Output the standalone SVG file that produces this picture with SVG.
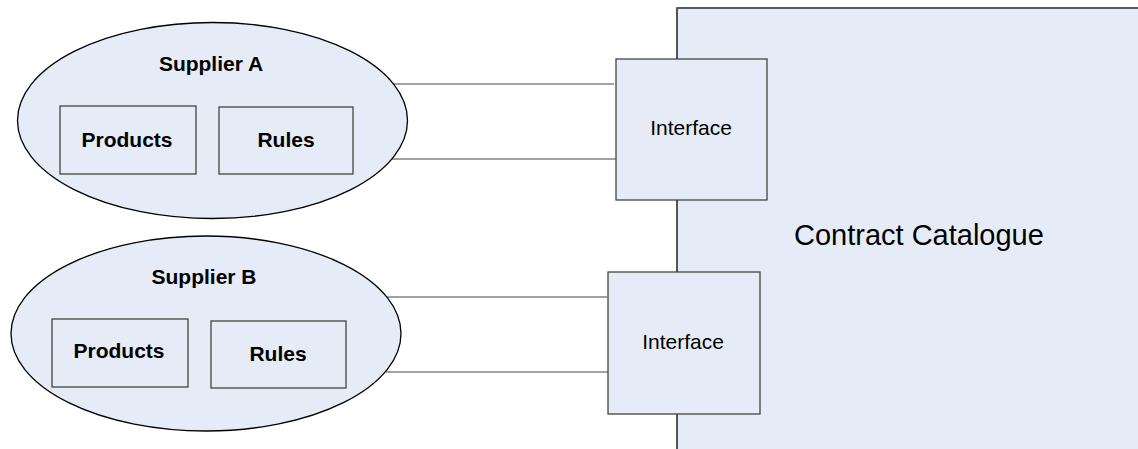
<svg xmlns="http://www.w3.org/2000/svg" width="1138" height="449" viewBox="0 0 1138 449">
<style>
.fill{fill:#e6ecf7}
.ell{fill:#e6ecf7;stroke:#000;stroke-width:1.3}
.box{fill:#e6ecf7;stroke:#444;stroke-width:1.3}
.conn{stroke:#444;stroke-width:1.2;fill:none}
.b{font-family:"Liberation Sans",Arial,sans-serif;font-weight:bold;font-size:21px;fill:#000;text-anchor:middle}
.r{font-family:"Liberation Sans",Arial,sans-serif;font-size:21px;fill:#000;text-anchor:middle}
</style>
<rect width="1138" height="449" fill="#fff"/>
<g id="catalogue">
<rect x="677" y="8" width="470" height="450" class="fill"/>
<path d="M677 458 V8 H1140" fill="none" stroke="#000" stroke-width="1.3"/>
<path d="M677 8 H1140" fill="none" stroke="#666" stroke-width="1.3"/>
<text x="794" y="245" font-family="Liberation Sans,Arial,sans-serif" font-size="29" fill="#000">Contract Catalogue</text>
</g>
<g id="connectors">
<line x1="393" y1="84" x2="614" y2="84" class="conn"/>
<line x1="392" y1="159" x2="618" y2="159" class="conn"/>
<line x1="387" y1="297" x2="607" y2="297" class="conn"/>
<line x1="386" y1="372" x2="611" y2="372" class="conn"/>
</g>
<g id="supplierA">
<ellipse cx="212.5" cy="120.5" rx="195" ry="98" class="ell"/>
<text x="211" y="71" class="b">Supplier A</text>
</g>
<g id="productsA">
<rect x="60" y="106" width="136" height="68" class="box"/>
<text x="127" y="147" class="b">Products</text>
</g>
<g id="rulesA">
<rect x="219" y="107" width="134" height="67" class="box"/>
<text x="286" y="147" class="b">Rules</text>
</g>
<g id="supplierB">
<ellipse cx="206" cy="333.5" rx="195" ry="97.5" class="ell"/>
<text x="204" y="284" class="b">Supplier B</text>
</g>
<g id="productsB">
<rect x="52" y="319" width="136" height="68" class="box"/>
<text x="119" y="358" class="b">Products</text>
</g>
<g id="rulesB">
<rect x="211" y="321" width="135" height="67" class="box"/>
<text x="278" y="361" class="b">Rules</text>
</g>
<g id="interfaceA">
<rect x="616" y="59" width="151" height="141" class="box"/>
<text x="691" y="135" class="r">Interface</text>
</g>
<g id="interfaceB">
<rect x="608" y="272" width="152" height="142" class="box"/>
<text x="683" y="349" class="r">Interface</text>
</g>
</svg>
